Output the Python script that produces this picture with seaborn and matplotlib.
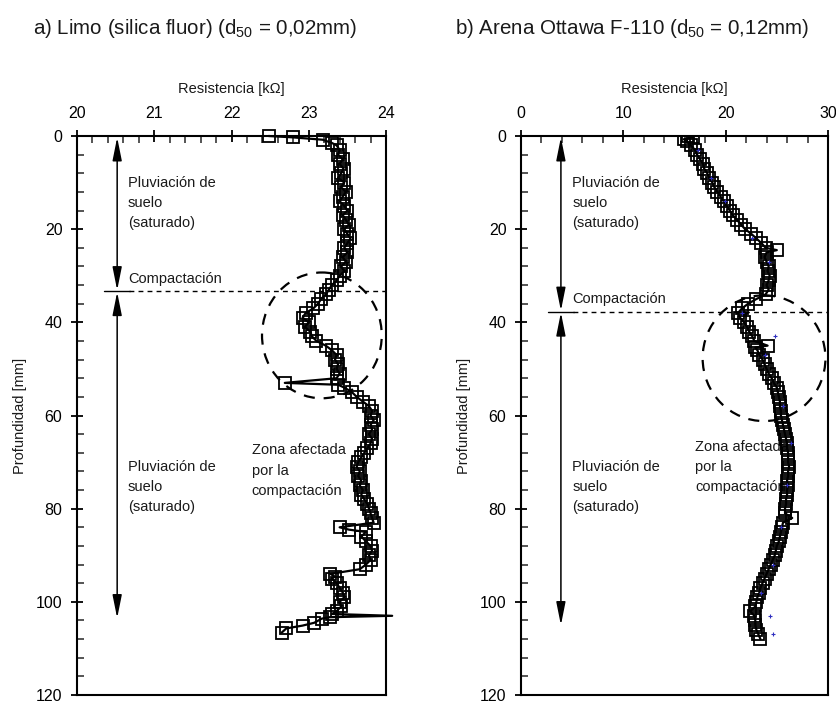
import numpy as np
import pandas as pd
import matplotlib
matplotlib.use("Agg")
import matplotlib.pyplot as plt
from matplotlib.patches import Ellipse
from matplotlib.ticker import MultipleLocator
import seaborn as sns

sns.set_style("ticks")
plt.rcParams['font.family'] = ['Liberation Sans', 'DejaVu Sans']
plt.rcParams['mathtext.fontset'] = 'custom'
plt.rcParams['mathtext.rm'] = 'Liberation Sans'
plt.rcParams['mathtext.it'] = 'Liberation Sans:italic'

# ---------------- data: panel a (Limo) ----------------
depth_a = [0, 0.3, 0.8, 1.5, 2, 3, 4, 5, 6, 7, 8, 9, 10, 11, 12, 13, 14, 15, 16, 17,
           18, 19, 20, 21, 22, 23, 24, 25, 26, 27, 28, 29, 30, 31, 32, 33, 34, 35, 36, 37,
           38, 39, 40, 41, 42, 43, 44, 45, 46, 47, 48, 49, 50, 51, 52, 53, 53.4, 54, 55, 56,
           57, 58, 59, 60, 61, 62, 63, 64, 65, 66, 67, 68, 69, 70, 71, 72, 73, 74, 75, 76,
           77, 78, 79, 80, 81, 82, 83, 84, 84.5, 85, 86, 87, 88, 89, 90, 91, 92, 93, 94, 94.6,
           95, 96, 97, 98, 99, 100, 101, 102, 102.6, 103, 103.3, 103.6, 104.5, 105.1, 105.7, 106.6]
res_a = [22.48, 22.80, 23.18, 23.30, 23.36, 23.40, 23.38, 23.44, 23.40, 23.45, 23.42, 23.38, 23.46, 23.42, 23.48, 23.44, 23.40, 23.46, 23.50, 23.44,
         23.48, 23.52, 23.46, 23.50, 23.54, 23.50, 23.46, 23.50, 23.44, 23.48, 23.42, 23.46, 23.40, 23.36, 23.30, 23.26, 23.22, 23.16, 23.12, 23.06,
         22.96, 22.92, 23.00, 22.95, 23.02, 23.04, 23.10, 23.22, 23.30, 23.36, 23.34, 23.38, 23.36, 23.40, 23.36, 22.69, 23.38, 23.46, 23.56, 23.62,
         23.70, 23.78, 23.82, 23.80, 23.84, 23.80, 23.82, 23.78, 23.82, 23.80, 23.76, 23.72, 23.68, 23.64, 23.62, 23.66, 23.64, 23.68, 23.66, 23.70,
         23.68, 23.72, 23.76, 23.78, 23.80, 23.82, 23.84, 23.40, 23.52, 23.74, 23.68, 23.74, 23.80, 23.82, 23.78, 23.80, 23.74, 23.66, 23.28, 23.34,
         23.30, 23.36, 23.40, 23.44, 23.46, 23.40, 23.42, 23.36, 23.30, 24.08, 23.27, 23.17, 23.07, 22.92, 22.71, 22.65]

# ---------------- data: panel b (Arena Ottawa) ----------------
depth_b = [0, 0.3, 0.7, 1, 2, 3, 4, 5, 6, 7, 8, 9, 10, 11, 12, 13, 14, 15, 16, 17,
           18, 19, 20, 21, 22, 23, 24, 24.5, 25, 26, 27, 28, 29, 30, 31, 32, 33, 34, 35, 36,
           37, 38, 39, 40, 41, 42, 43, 44, 45, 45.4, 46, 47, 48, 49, 50, 51, 52, 53, 54, 55,
           56, 57, 58, 59, 60, 61, 62, 63, 64, 65, 66, 67, 68, 69, 70, 71, 72, 73, 74, 75,
           76, 77, 78, 79, 80, 81, 82, 83, 84, 85, 86, 87, 88, 89, 90, 91, 92, 93, 94, 95,
           96, 97, 98, 99, 100, 101, 102, 103, 104, 105, 106, 107, 108]
res_b = [16.3, 16.8, 15.9, 16.2, 16.6, 17.0, 17.2, 17.5, 17.8, 17.9, 18.2, 18.4, 18.7, 18.9, 19.2, 19.5, 19.8, 20.1, 20.4, 20.7,
         21.1, 21.5, 21.9, 22.5, 23.0, 23.5, 23.9, 25.0, 24.0, 23.8, 24.0, 24.2, 24.1, 24.3, 24.2, 24.0, 24.2, 23.9, 23.0, 22.2,
         21.6, 21.2, 21.4, 21.8, 22.1, 22.3, 22.6, 22.8, 24.1, 22.9, 23.1, 23.3, 23.6, 23.8, 24.0, 24.2, 24.5, 24.7, 25.0, 25.1,
         25.2, 25.3, 25.3, 25.4, 25.4, 25.5, 25.6, 25.7, 25.8, 25.9, 26.0, 26.0, 26.1, 26.1, 26.1, 26.2, 26.1, 26.1, 26.0, 26.1,
         26.0, 26.0, 25.9, 25.9, 25.8, 25.8, 26.5, 25.6, 25.5, 25.4, 25.3, 25.2, 25.0, 24.9, 24.8, 24.6, 24.4, 24.2, 24.0, 23.8,
         23.6, 23.4, 23.3, 23.1, 23.0, 22.9, 22.4, 22.8, 22.9, 22.9, 23.0, 23.2, 23.4]

# faint blue secondary markers (panel b)
depth_b2 = [3, 9, 14, 22, 27, 38, 43, 47, 58, 66, 75, 84, 92, 98, 103, 107]
res_b2 = [17.3, 18.6, 19.9, 22.6, 24.2, 21.6, 24.8, 23.8, 25.6, 26.4, 26.0, 25.4, 24.6, 23.5, 24.3, 24.6]

titles = ["a) Limo (silica fluor) (d$\\mathregular{_{50}}$ = 0,02mm)",
          "b) Arena Ottawa F-110 (d$\\mathregular{_{50}}$ = 0,12mm)"]
xlabel = "Resistencia [k\u03a9]"
ylabel = "Profundidad [mm]"

fig = plt.figure(figsize=(8.37, 7.05), dpi=100)
ax_a = fig.add_axes([77/837, 1-695/705, (386-77)/837, (695-136)/705])
ax_b = fig.add_axes([521/837, 1-695/705, (828-521)/837, (695-136)/705])

df_a = pd.DataFrame({"res": res_a, "depth": depth_a})
df_b = pd.DataFrame({"res": res_b, "depth": depth_b})
df_b2 = pd.DataFrame({"res": res_b2, "depth": depth_b2})

mk = dict(marker="s", markersize=8.5, markerfacecolor="none", markeredgecolor="black",
          markeredgewidth=1.3, color="black", linewidth=1.6)

sns.lineplot(data=df_a, x="res", y="depth", sort=False, estimator=None, ax=ax_a, zorder=3, **mk)
spike = int(np.argmax(res_a))
for ln in ax_a.lines:
    ln.set_clip_on(False)
    ln.set_markevery([i for i in range(len(res_a)) if i != spike])
sns.lineplot(data=df_b, x="res", y="depth", sort=False, estimator=None, ax=ax_b, zorder=3, **mk)
sns.scatterplot(data=df_b2, x="res", y="depth", ax=ax_b, marker="+", s=12, color="#3030c0",
                linewidth=0.8, zorder=4)

cfg = [
    (ax_a, (20, 24), 1, 0.2, 20.52, 33.3, 103.5, 20.66, (23.17, 42.8, 1.55, 27.0), (22.26, 66.0), 0.17),
    (ax_b, (0, 30), 10, 2, 3.9, 37.7, 105.0, 5.0, (23.75, 47.7, 12.0, 27.0), (17.0, 65.3), 1.3),
]
txtc = "#1a1a1a"
for ax, xl, maj, mnr, xa, dcomp, dend, xt, ell, zpos, half in cfg:
    ax.set_xlim(*xl)
    ax.set_ylim(120, 0)
    ax.xaxis.set_ticks_position("top")
    ax.xaxis.set_label_position("top")
    ax.xaxis.set_major_locator(MultipleLocator(maj))
    ax.xaxis.set_minor_locator(MultipleLocator(mnr))
    ax.yaxis.set_major_locator(MultipleLocator(20))
    ax.yaxis.set_minor_locator(MultipleLocator(4))
    ax.tick_params(which="major", direction="inout", length=9, width=1.3, labelsize=11.5, pad=6,
                   top=True, bottom=False, left=True, right=False, colors="black")
    ax.tick_params(which="minor", direction="in", length=5, width=1.1,
                   top=True, bottom=False, left=True, right=False)
    for s in ax.spines.values():
        s.set_linewidth(1.5)
        s.set_color("black")
        s.set_visible(True)
    ax.set_xlabel(xlabel, fontsize=10.5, labelpad=10, color=txtc)
    ax.set_ylabel(ylabel, fontsize=10.5, labelpad=6, color=txtc)

    # compaction dashed line
    ax.plot([xa + half*0.9, xl[1]], [dcomp, dcomp], ls=(0, (3.5, 3)), color="black", lw=1.0, zorder=2)
    ax.plot([xa - half, xa + half], [dcomp, dcomp], color="black", lw=1.0, zorder=2)
    # arrows
    ap = dict(arrowstyle="<|-|>,head_length=1.4,head_width=0.28", color="black", lw=1.1,
              shrinkA=0, shrinkB=0)
    ax.annotate("", xy=(xa, 0.3), xytext=(xa, dcomp - 0.2), arrowprops=ap)
    ax.annotate("", xy=(xa, dcomp + 0.2), xytext=(xa, dend), arrowprops=ap)
    # labels
    ax.text(xt, 8.5, "Pluviación de\nsuelo\n(saturado)", fontsize=10.5, va="top", ha="left",
            linespacing=1.55, color=txtc, zorder=1)
    ax.text(xt, dcomp - 1.2, "Compactación", fontsize=10.5, va="bottom", ha="left", color=txtc, zorder=1)
    ax.text(xt, 69.5, "Pluviación de\nsuelo\n(saturado)", fontsize=10.5, va="top", ha="left",
            linespacing=1.55, color=txtc, zorder=1)
    ax.text(zpos[0], zpos[1], "Zona afectada\npor la\ncompactación", fontsize=10.5, va="top",
            ha="left", linespacing=1.55, color=txtc, zorder=1)
    # dashed ellipse
    ax.add_patch(Ellipse((ell[0], ell[1]), ell[2], ell[3], fill=False, ls=(0, (5, 4)),
                         lw=1.6, ec="black", zorder=2))

fig.text(33/837, 1-28/705, titles[0], fontsize=14.8, va="center", ha="left", color=txtc)
fig.text(455/837, 1-28/705, titles[1], fontsize=14.8, va="center", ha="left", color=txtc)

fig.savefig("out.png", dpi=100, facecolor="white")
